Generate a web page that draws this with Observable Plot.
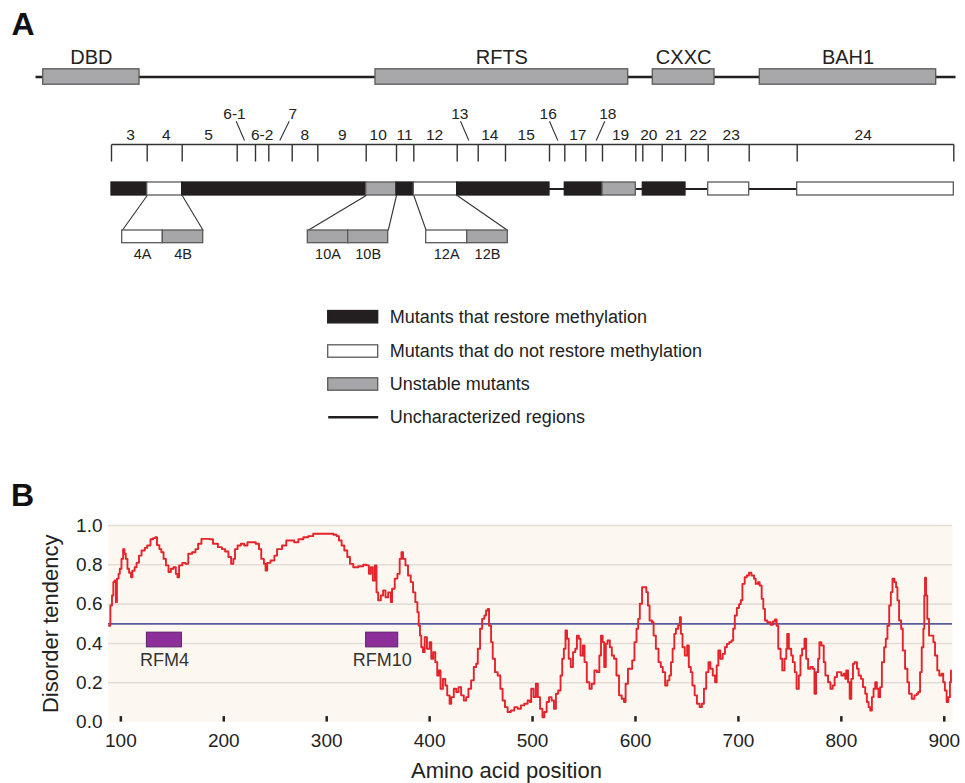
<!DOCTYPE html>
<html><head><meta charset="utf-8">
<script src="https://cdn.jsdelivr.net/npm/d3@7"></script>
<script src="https://cdn.jsdelivr.net/npm/@observablehq/plot@0.6"></script>
<style>
html,body{margin:0;padding:0;background:#fff;}
#chart{width:965px;}
#chart svg{display:block;}
</style></head><body><div id="chart"></div>
<script>
// ---------- Panel A data (schematic units) ----------
const domainNames = ["DBD", "RFTS", "CXXC", "BAH1"];
const domainStart = [42.7, 375, 652.3, 759.3];
const domainEnd = [139, 627.7, 714, 935.7];
const trackExtent = [35, 955];

const rulerBounds = [111, 146.7, 181.7, 236.7, 255, 268.3, 291.7, 317.3, 365.7, 396, 413.3, 456.7, 477.7, 505, 549, 564.3, 585.3, 602, 635.3, 642.3, 661.7, 685, 707.7, 748.7, 796.7, 953.3];

const segLabels = ["3", "4", "5", "6-2", "8", "9", "10", "11", "12", "14", "15", "17", "19", "20", "21", "22", "23", "24"];
const segLabelX = [130, 165.7, 208, 261.7, 304.3, 341.7, 377.7, 404, 434, 489.3, 525.7, 577.3, 620, 648.3, 673.3, 697.7, 730.7, 862.7];
const raisedLabels = ["6-1", "7", "13", "16", "18"];
const raisedLabelX = [234, 292.3, 459.3, 547.7, 607.3];
const leaderFrom = [235.7, 288.7, 460, 549, 604.3];
const leaderTo = [244, 279.3, 468.3, 557.3, 595.7];

const mutantStart = [111, 146.7, 181.7, 365.7, 396, 413.3, 456.7, 564.3, 602, 642.3, 707.7, 796.7];
const mutantEnd = [146.7, 181.7, 365.7, 396, 413.3, 456.7, 549, 602, 635.3, 685, 748.7, 953.3];
const mutantClass = ["restore", "no", "restore", "unstable", "restore", "no", "restore", "restore", "unstable", "restore", "no", "no"];

const subNames = ["4A", "4B", "10A", "10B", "12A", "12B"];
const subStart = [121.7, 162.3, 307.3, 347.7, 425.7, 466.7];
const subEnd = [162.3, 202.7, 347.7, 387.7, 466.7, 507.3];
const subClass = ["no", "unstable", "unstable", "unstable", "no", "unstable"];
const expandParentStart = [146.7, 365.7, 413.3];
const expandParentEnd = [181.7, 396, 456.7];
const expandChildStart = [121.7, 307.3, 425.7];
const expandChildEnd = [202.7, 387.7, 507.3];

const legendLabels = ["Mutants that restore methylation", "Mutants that do not restore methylation", "Unstable mutants", "Uncharacterized regions"];
const legendClass = ["restore", "no", "unstable", "line"];

// ---------- Panel B data ----------
const xTicks = [100, 200, 300, 400, 500, 600, 700, 800, 900];
const yTicks = [0, 0.2, 0.4, 0.6, 0.8, 1.0];
const threshold = 0.5;
const rfmNames = ["RFM4", "RFM10"];
const rfmStart = [125.3, 338.3];
const rfmEnd = [159.3, 369.5];

const position = [88.5,89.8,91.4,92.7,93.9,95.2,96.2,97.8,99,100.6,102.2,103.5,104.8,106.4,108,109.9,111.2,113.4,115.3,117.6,120.1,123.3,125.6,128.8,131.3,133.5,135.1,137.4,139.3,141.5,143.8,146.3,148.6,151.1,153.4,155,156.6,159.7,162.9,165.5,169.3,172.5,175.1,178.3,181.5,186.3,189.5,194.3,198.2,201.3,204.5,207.1,209.3,210.9,213.4,216.6,219.8,223,226.2,231,234.2,236.4,239,240.6,242.2,245.4,249.2,251.8,256.6,260.7,264.5,268.4,272.5,277.3,282.1,286.9,291.7,
295.2,301.6,306.5,309.7,311.9,314.5,317.1,320,322.6,325.8,330.6,335.5,338.7,341,342.9,344.8,346.8,348.4,350,352.6,354.8,357.1,359.7,362.3,363.5,366.1,368.7,370.9,372.6,374.2,376.5,379,381.6,383.9,386.1,388.1,389.4,390.6,391.9,393.5,395.2,397.4,400,401.6,403.5,405.5,407.4,409,410.6,412.9,415.2,417.1,419.4,421,423.5,425.8,428.1,430.6,433.2,435.5,437.7,440.3,442.9,445.2,446.8,449,451,453.2,454.8,456.5,457.7,459.7,461.3,463.5,466.1,468.7,470.9,473.2,475.8,479,482.3,485.5,488.7,491.9,495.2,
497.5,498.7,501,503.2,505.1,507.3,509.6,511.5,513.7,516,518.5,520.8,522.7,524.9,527.2,528.8,530.4,532,533.5,535.1,537.1,539.3,541.5,543.1,545,546.6,548.9,550.5,552.7,555.3,557.5,560.1,562.6,564.9,566.5,568.1,569.6,571.2,572.8,575.1,577,579.2,581.5,584,586.6,588.8,590.4,592.7,594.6,596.8,599,601,602.6,604.2,606.4,608.6,610.5,612.1,613.7,616,617.6,619.8,622.4,624.6,626.5,628.8,631,632.9,634.5,636.1,637.7,639.3,641.5,643.1,644.1,645.7,647.9,650.2,651.8,653.7,655.3,657.5,659.7,662.3,664.5,666.5,668.7,670.9,672.8,675.1,677.3,678.9,680.5,682.4,684.7,686.9,688.8,691.1,693.3,694.9,696.5,698.5,700.6,702.3,
703.9,706.1,708.1,710.3,712.6,715.2,716.8,719,720.6,722.6,724.2,725.8,728.1,731.3,733.5,735.5,737.1,738.7,741,742.6,744.8,746.5,747.4,749,751.3,752.9,754.8,756.5,758.7,760.3,761.9,764.2,765.8,767.7,770,772.3,773.9,775.5,777.4,778.7,780.6,782.9,784.5,787.1,789.4,791.6,793.5,795.8,798.1,800,802.3,803.9,804.8,806.5,808.1,809.7,811.3,812.9,815.2,816.8,819,821,823.2,824.8,826.5,828.1,829.7,831.3,832.9,834.5,836.1,837.7,839.4,841.6,843.2,844.8,846.5,848.1,849.7,851.6,853.2,854.5,856.1,858.1,859.7,861.9,864.2,865.8,868.4,871,873.2,874.8,876.5,878.1,879.7,880.6,881.3,882.3,883.5,885.2,887.1,889.4,891,893.2,895.2,897.4,899,900.6,902.3,903.9,905.5,906.5];

const disorder = [0.49,0.593,0.644,0.712,0.72,0.61,0.73,0.754,0.78,0.83,0.88,0.856,0.83,0.78,0.76,0.737,0.77,0.788,0.81,0.847,0.873,0.886,0.898,0.93,0.936,0.94,0.9,0.88,0.864,0.83,0.797,0.763,0.78,0.788,0.754,0.737,0.797,0.81,0.805,0.856,0.864,0.88,0.907,0.932,0.932,0.93,0.907,0.89,0.88,0.868,0.84,0.805,0.83,0.88,0.898,0.907,0.898,0.915,0.915,0.907,0.88,0.83,0.805,0.771,0.81,0.822,0.847,0.88,0.898,0.924,0.924,0.915,0.93,0.94,0.946,0.958,0.958,
0.958,0.958,0.953,0.946,0.924,0.898,0.873,0.84,0.805,0.788,0.793,0.8,0.797,0.754,0.788,0.72,0.797,0.66,0.62,0.644,0.67,0.635,0.66,0.61,0.678,0.73,0.754,0.83,0.864,0.83,0.797,0.746,0.712,0.66,0.61,0.559,0.49,0.44,0.381,0.356,0.432,0.373,0.407,0.322,0.356,0.305,0.237,0.263,0.17,0.22,0.186,0.136,0.093,0.127,0.17,0.153,0.178,0.136,0.11,0.127,0.17,0.212,0.28,0.297,0.373,0.475,0.525,0.542,0.568,0.576,0.49,0.407,0.322,0.254,0.237,0.17,0.11,0.076,0.051,0.059,0.076,0.068,0.085,0.093,0.11,
0.102,0.17,0.127,0.195,0.127,0.068,0.025,0.051,0.102,0.127,0.11,0.068,0.144,0.161,0.237,0.322,0.373,0.466,0.424,0.322,0.28,0.356,0.373,0.44,0.424,0.339,0.39,0.305,0.203,0.17,0.195,0.263,0.254,0.339,0.44,0.407,0.28,0.398,0.415,0.381,0.339,0.322,0.237,0.136,0.119,0.102,0.195,0.271,0.271,0.314,0.407,0.475,0.525,0.602,0.686,0.686,0.661,0.593,0.517,0.508,0.44,0.373,0.305,0.28,0.254,0.186,0.212,0.237,0.305,0.373,0.449,0.475,0.492,0.534,0.449,0.381,0.339,0.39,0.28,0.254,0.186,0.136,0.093,0.076,0.093,0.17,0.254,0.305,0.271,0.237,0.203,0.288,0.364,0.322,0.347,0.381,0.398,0.407,0.415,0.475,0.542,0.58,0.6,0.62,
0.703,0.737,0.746,0.76,0.746,0.729,0.703,0.712,0.695,0.627,0.576,0.517,0.508,0.495,0.512,0.522,0.49,0.373,0.322,0.263,0.322,0.373,0.449,0.373,0.339,0.305,0.254,0.17,0.237,0.339,0.373,0.424,0.322,0.271,0.28,0.271,0.144,0.254,0.322,0.407,0.39,0.305,0.237,0.203,0.17,0.186,0.229,0.254,0.254,0.237,0.246,0.22,0.263,0.203,0.119,0.22,0.297,0.305,0.271,0.237,0.22,0.178,0.144,0.102,0.076,0.059,0.127,0.17,0.203,0.17,0.127,0.178,0.305,0.381,0.424,0.49,0.593,0.661,0.729,0.712,0.686,0.619,0.517,0.475,0.364,0.271,0.203,0.144,0.119,0.136,0.144,0.153,0.254,0.381,0.475,0.644,0.734,0.644,0.525,0.44,0.44,0.407,0.339,0.263,0.237,0.246,0.203,0.161,0.102,0.127,0.203,0.263];

// ---------- styling / layout ----------
const FONT = "'Liberation Sans', Arial, Helvetica, sans-serif";
const INK = "#231f20";
const TEXT = "#222";
const EDGE = "#5a5a5a";
const fillFor = {restore: INK, no: "#ffffff", unstable: "#a6a6a9"};
const R = {
  letterY: 24, letterX: 22.5,
  domainLabel: 57, domain: 76.5, domainHalf: 7.7,
  raised: 113.5, leaderTop: 120.7, leaderBottom: 140,
  segLabel: 134.5, ruler: 144, tickEnd: 161,
  bar: 188.5, barHalf: 6.5,
  subTop: 230, subBottom: 242.7, subLabel: 253.8,
  legendRows: [316.7, 351, 384, 416.7], legendHalf: 6.2,
  swatch1: 327.7, swatch2: 377.7, legendText: 389.3
};
const range = n => d3.range(n);

// ---------- Panel A ----------
const dIdx = range(domainNames.length);
const sIdx = range(mutantStart.length);
const subIdx = range(subNames.length);
const eIdx = range(expandParentStart.length);
const lIdx = range(legendLabels.length);
const rIdx = range(raisedLabels.length);
const boxIdx = lIdx.filter(i => legendClass[i] !== "line");
const lineIdx = lIdx.filter(i => legendClass[i] === "line");

const panelA = Plot.plot({
  width: 965, height: 460, margin: 0,
  style: {fontFamily: FONT, background: "#fff", overflow: "visible"},
  x: {domain: [0, 965], range: [0, 965], axis: null},
  y: {domain: [0, 460], range: [0, 460], axis: null},
  marks: [
    Plot.text(["A"], {x: R.letterX, y: R.letterY, text: d => d, fontSize: 32, fontWeight: "bold", fill: "#111"}),
    // domain track
    Plot.link([trackExtent], {x1: d => d[0], x2: d => d[1], y1: R.domain, y2: R.domain, stroke: INK, strokeWidth: 2.5}),
    Plot.rect(dIdx, {x1: i => domainStart[i], x2: i => domainEnd[i], y1: R.domain - R.domainHalf, y2: R.domain + R.domainHalf, fill: "#a8a8aa", stroke: EDGE, strokeWidth: 1.3}),
    Plot.text(dIdx, {x: i => (domainStart[i] + domainEnd[i]) / 2, y: R.domainLabel, text: i => domainNames[i], fontSize: 20, fill: TEXT}),
    // ruler
    Plot.link([[rulerBounds[0], rulerBounds[rulerBounds.length - 1]]], {x1: d => d[0], x2: d => d[1], y1: R.ruler, y2: R.ruler, stroke: "#333", strokeWidth: 1.4}),
    Plot.link(rulerBounds, {x1: d => d, x2: d => d, y1: R.ruler, y2: R.tickEnd, stroke: "#333", strokeWidth: 1.4}),
    Plot.text(range(segLabels.length), {x: i => segLabelX[i], y: R.segLabel, text: i => segLabels[i], fontSize: 15.5, fill: TEXT}),
    Plot.text(rIdx, {x: i => raisedLabelX[i], y: R.raised, text: i => raisedLabels[i], fontSize: 15.5, fill: TEXT}),
    Plot.link(rIdx, {x1: i => leaderFrom[i], x2: i => leaderTo[i], y1: R.leaderTop, y2: R.leaderBottom, stroke: "#333", strokeWidth: 1.1}),
    // mutant bar
    Plot.link([[rulerBounds[0], rulerBounds[rulerBounds.length - 1]]], {x1: d => d[0], x2: d => d[1], y1: R.bar, y2: R.bar, stroke: INK, strokeWidth: 2.2}),
    Plot.rect(sIdx, {x1: i => mutantStart[i], x2: i => mutantEnd[i], y1: R.bar - R.barHalf, y2: R.bar + R.barHalf, fill: i => fillFor[mutantClass[i]], stroke: i => mutantClass[i] === "restore" ? INK : EDGE, strokeWidth: 1.3}),
    // expansion lines
    Plot.link(eIdx, {x1: i => expandParentStart[i], x2: i => expandChildStart[i], y1: R.bar + R.barHalf, y2: R.subTop, stroke: "#333", strokeWidth: 1.1}),
    Plot.link(eIdx, {x1: i => expandParentEnd[i], x2: i => expandChildEnd[i], y1: R.bar + R.barHalf, y2: R.subTop, stroke: "#333", strokeWidth: 1.1}),
    Plot.rect(subIdx, {x1: i => subStart[i], x2: i => subEnd[i], y1: R.subTop, y2: R.subBottom, fill: i => fillFor[subClass[i]], stroke: EDGE, strokeWidth: 1.3}),
    Plot.text(subIdx, {x: i => (subStart[i] + subEnd[i]) / 2, y: R.subLabel, text: i => subNames[i], fontSize: 14.5, fill: TEXT}),
    // legend
    Plot.rect(boxIdx, {x1: R.swatch1, x2: R.swatch2, y1: i => R.legendRows[i] - R.legendHalf, y2: i => R.legendRows[i] + R.legendHalf, fill: i => fillFor[legendClass[i]], stroke: i => legendClass[i] === "restore" ? INK : EDGE, strokeWidth: 1.3}),
    Plot.link(lineIdx, {x1: R.swatch1, x2: R.swatch2, y1: i => R.legendRows[i], y2: i => R.legendRows[i], stroke: INK, strokeWidth: 2.5}),
    Plot.text(lIdx, {x: R.legendText, y: i => R.legendRows[i], text: i => legendLabels[i], textAnchor: "start", fontSize: 18, fill: TEXT})
  ]
});

// ---------- Panel B ----------
const pIdx = range(position.length);
const rfmIdx = range(rfmNames.length);
const panelB = Plot.plot({
  width: 965, height: 323,
  marginTop: 65, marginBottom: 61.4, marginLeft: 108, marginRight: 13,
  style: {fontFamily: FONT, background: "#fff", overflow: "visible"},
  x: {domain: [88, 908]},
  y: {domain: [0, 1]},
  marks: [
    Plot.frame({fill: "#fcf8f1", stroke: "none"}),
    Plot.ruleY(yTicks.filter(d => d > 0), {stroke: "#e2ded7", strokeWidth: 1.6}),
    Plot.ruleY([threshold], {stroke: "#5b5b9f", strokeWidth: 1.8}),
    Plot.rect(rfmIdx, {x1: i => rfmStart[i], x2: i => rfmEnd[i], y1: 0.38, y2: 0.455, fill: "#8c2f9b", stroke: "#5e2068", strokeWidth: 1}),
    Plot.text(rfmIdx, {x: i => (rfmStart[i] + rfmEnd[i]) / 2, y: 0.313, text: i => rfmNames[i], fontSize: 18, fill: "#333"}),
    Plot.line(pIdx, {x: i => position[i], y: i => disorder[i], stroke: "#e5232b", strokeWidth: 1.9, curve: "step-after"}),
    Plot.ruleX(xTicks, {y1: 0, y2: 0.028, stroke: "#222", strokeWidth: 2.5}),
    Plot.axisX(xTicks, {tickSize: 0, tickPadding: 11, fontSize: 19, label: null, color: TEXT}),
    Plot.axisY(yTicks, {tickSize: 0, tickPadding: 6, fontSize: 19, label: null, tickFormat: d3.format(".1f"), color: TEXT}),
    Plot.text(["Disorder tendency"], {frameAnchor: "left", dx: -58, rotate: -90, textAnchor: "middle", lineAnchor: "middle", text: d => d, fontSize: 22, fill: TEXT}),
    Plot.text(["Amino acid position"], {frameAnchor: "bottom", dx: -24, dy: 48.5, textAnchor: "middle", lineAnchor: "middle", text: d => d, fontSize: 22, fill: TEXT}),
    Plot.text(["B"], {frameAnchor: "top-left", dx: -86, dy: -30, textAnchor: "middle", lineAnchor: "middle", text: d => d, fontSize: 32, fontWeight: "bold", fill: "#111"})
  ]
});

const root = document.getElementById("chart");
root.appendChild(panelA);
root.appendChild(panelB);
</script></body></html>
